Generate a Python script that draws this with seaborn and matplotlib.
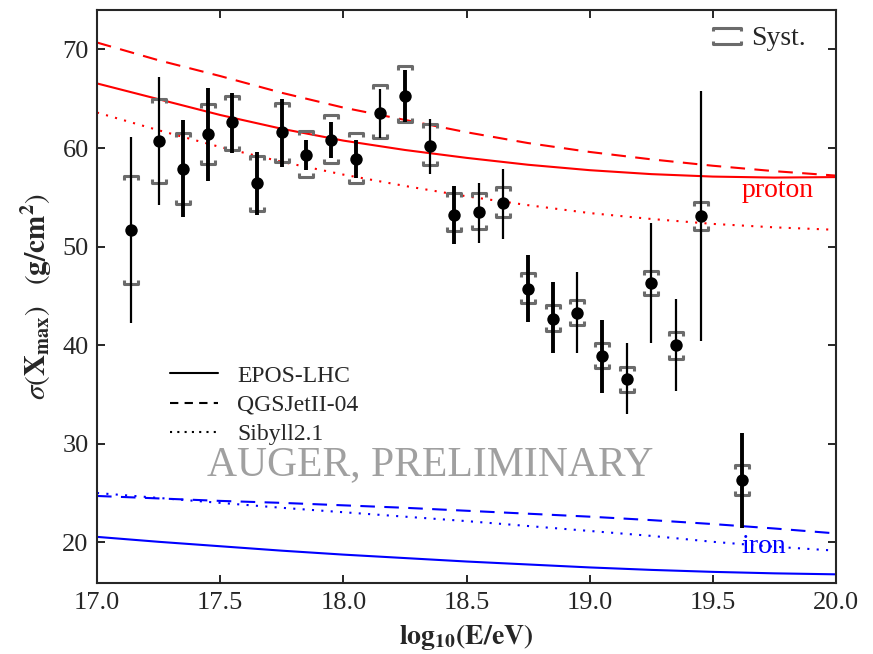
import matplotlib
matplotlib.use("Agg")
import matplotlib.pyplot as plt
from matplotlib.path import Path
from matplotlib.lines import Line2D
import numpy as np
import pandas as pd
import seaborn as sns

# ---------------- data ----------------
energy = [17.14, 17.25, 17.35, 17.45, 17.55, 17.65, 17.75, 17.85, 17.95, 18.05,
          18.15, 18.25, 18.35, 18.45, 18.55, 18.65, 18.75, 18.85, 18.95, 19.05,
          19.15, 19.25, 19.35, 19.45, 19.62]
sigma = [51.7, 60.7, 57.9, 61.4, 62.6, 56.4, 61.6, 59.3, 60.8, 58.9,
         63.6, 65.3, 60.2, 53.2, 53.5, 54.4, 45.7, 42.7, 43.3, 38.9,
         36.6, 46.3, 40.0, 53.1, 26.3]
stat_up = [9.4, 6.5, 4.9, 4.7, 3.0, 3.2, 3.4, 1.5, 1.8, 1.9,
           2.4, 2.6, 2.7, 2.9, 2.9, 3.5, 3.4, 3.7, 4.1, 3.7,
           3.6, 6.1, 4.7, 12.7, 4.8]
stat_dn = [9.5, 6.5, 4.9, 4.7, 3.1, 3.2, 3.5, 1.5, 1.8, 1.9,
           2.6, 2.7, 2.8, 2.9, 3.1, 3.6, 3.4, 3.5, 4.1, 3.8,
           3.6, 6.1, 4.7, 12.7, 4.8]
syst_up = [5.5, 4.3, 3.6, 3.1, 2.7, 2.8, 3.0, 2.4, 2.5, 2.6,
           2.8, 3.0, 2.2, 2.2, 1.9, 1.6, 1.6, 1.4, 1.3, 1.3,
           1.2, 1.2, 1.3, 1.4, 1.5]
syst_dn = [5.5, 4.3, 3.6, 3.0, 2.8, 2.8, 3.0, 2.2, 2.3, 2.4,
           2.6, 2.7, 1.9, 1.6, 1.7, 1.4, 1.4, 1.3, 1.3, 1.2,
           1.4, 1.2, 1.4, 1.4, 1.5]

model_x = [17.0, 17.25, 17.5, 17.75, 18.0, 18.25, 18.5, 18.75, 19.0, 19.25, 19.5, 19.75, 20.0]
p_epos = [66.55, 64.95, 63.35, 61.95, 60.75, 59.8, 59.0, 58.3, 57.75, 57.35, 57.1, 57.0, 57.05]
p_qgs = [70.7, 68.9, 67.3, 65.6, 64.1, 62.85, 61.6, 60.5, 59.6, 58.85, 58.2, 57.65, 57.2]
p_sib = [63.6, 61.8, 60.1, 58.6, 57.3, 56.15, 55.1, 54.2, 53.4, 52.8, 52.3, 51.95, 51.7]
fe_epos = [20.55, 20.05, 19.6, 19.15, 18.75, 18.4, 18.05, 17.75, 17.45, 17.2, 17.0, 16.85, 16.75]
fe_qgs = [24.7, 24.45, 24.2, 24.0, 23.75, 23.5, 23.2, 22.9, 22.6, 22.25, 21.85, 21.4, 20.9]
fe_sib = [25.0, 24.5, 24.0, 23.5, 23.05, 22.6, 22.15, 21.65, 21.15, 20.65, 20.05, 19.55, 19.15]

model_names = ["EPOS-LHC", "QGSJetII-04", "Sibyll2.1"]
x_ticks = [17.0, 17.5, 18.0, 18.5, 19.0, 19.5, 20.0]
y_ticks = [20, 30, 40, 50, 60, 70]

# drawing style (not data): stat bar widths as rendered in the reference
stat_lw = [1.6, 1.6, 2.8, 2.8, 2.8, 2.8, 2.8, 2.8, 2.8, 2.8,
           1.6, 2.8, 1.6, 2.8, 1.6, 1.6, 2.8, 2.8, 1.6, 2.8,
           1.6, 1.6, 1.6, 1.6, 2.8]

# ---------------- style ----------------
sns.set_style("ticks")
plt.rcParams["font.family"] = ["Liberation Serif", "DejaVu Serif"]
plt.rcParams["mathtext.fontset"] = "stix"

fig = plt.figure(figsize=(8.73, 6.54), dpi=100)
ax = fig.add_axes([97 / 873, 1 - 583.3 / 654, 739 / 873, 573.3 / 654])

# model curves
rows = []
for name, p, fe in zip(model_names, [p_epos, p_qgs, p_sib], [fe_epos, fe_qgs, fe_sib]):
    for xv, yv in zip(model_x, p):
        rows.append(dict(E=xv, s=yv, model=name, prim="proton"))
    for xv, yv in zip(model_x, fe):
        rows.append(dict(E=xv, s=yv, model=name, prim="iron"))
mdf = pd.DataFrame(rows)

dash_map = {"EPOS-LHC": None, "QGSJetII-04": (7, 4.5), "Sibyll2.1": (1, 3.5)}
for (prim, name), g in mdf.groupby(["prim", "model"]):
    color = "#ff0000" if prim == "proton" else "#0000ff"
    sns.lineplot(data=g, x="E", y="s", color=color, lw=1.5, ax=ax, legend=False)
    ln = ax.lines[-1]
    if dash_map[name]:
        ln.set_dashes(dash_map[name])

# data
df = pd.DataFrame(dict(E=energy, s=sigma, su=stat_up, sd=stat_dn, yu=syst_up, yd=syst_dn))

top_br = Path([(-1, -0.5), (-1, 0), (1, 0), (1, -0.5)])
bot_br = Path([(-1, 0.5), (-1, 0), (1, 0), (1, 0.5)])
grey = "#6b6b6b"
ax.plot(df.E, df.s + df.yu, ls="none", marker=top_br, ms=10.5, mew=2.2,
        mec=grey, mfc="none", zorder=3)
ax.plot(df.E, df.s - df.yd, ls="none", marker=bot_br, ms=10.5, mew=2.2,
        mec=grey, mfc="none", zorder=3)

for i in range(len(df)):
    ax.errorbar(df.E[i], df.s[i], yerr=[[df.sd[i]], [df.su[i]]], fmt="none",
                ecolor="black", elinewidth=stat_lw[i], capsize=0, zorder=4)
sns.scatterplot(data=df, x="E", y="s", color="black", s=80, edgecolor="black",
                linewidth=0, zorder=5, ax=ax, legend=False)

# legends
h_models = [Line2D([], [], color="black", lw=1.5, ls="-"),
            Line2D([], [], color="black", lw=1.5, dashes=(4, 3)),
            Line2D([], [], color="black", lw=1.5, dashes=(1, 2.5))]
leg1 = ax.legend(h_models, model_names, loc="center", bbox_to_anchor=(0.226, 0.311),
                 frameon=False, fontsize=17, handlelength=2.05, handletextpad=0.8,
                 labelspacing=0.32, borderpad=0, borderaxespad=0)
ax.add_artist(leg1)

syst_path = Path([(-1, 0.35), (-1, 0.6), (1, 0.6), (1, 0.35),
                  (-1, -0.35), (-1, -0.6), (1, -0.6), (1, -0.35)],
                 [Path.MOVETO, Path.LINETO, Path.LINETO, Path.LINETO,
                  Path.MOVETO, Path.LINETO, Path.LINETO, Path.LINETO])
h_syst = Line2D([], [], ls="none", marker=syst_path, ms=20, mew=2.2, mec=grey, mfc="none")
ax.legend([h_syst], ["Syst."], loc="center", bbox_to_anchor=(0.8965, 0.950),
          frameon=False, fontsize=20, handlelength=1.0, handletextpad=0.4,
          borderpad=0, borderaxespad=0)

# annotations
ax.text(19.765, 55.7, "proton", color="#ff0000", fontsize=20, ha="center", va="center")
ax.text(19.708, 19.55, "iron", color="#0000ff", fontsize=20, ha="center", va="center")
ax.text(18.352, 27.84, "AUGER, PRELIMINARY", color="#a0a0a0", fontsize=30,
        ha="center", va="center")

# axes
ax.set_xlim(17.0, 20.0)
ax.set_ylim(15.84, 74.0)
ax.set_xticks(x_ticks)
ax.set_xticklabels([f"{t:.1f}" for t in x_ticks])
ax.set_yticks(y_ticks)
ax.set_yticklabels([str(t) for t in y_ticks])
ax.tick_params(direction="in", length=6, width=1.4, top=True, right=True,
               labelsize=19, pad=6)
for sp in ax.spines.values():
    sp.set_linewidth(1.5)
    sp.set_visible(True)

ax.set_xlabel(r"$\mathbf{log_{10}(E/eV)}$", fontsize=20, labelpad=6)
ax.set_ylabel(r"$\sigma(\mathbf{X}_{\mathbf{max}})\quad(\mathbf{g/cm^{2}})$", fontsize=21,
              labelpad=6)

fig.savefig("out.png", dpi=100)
